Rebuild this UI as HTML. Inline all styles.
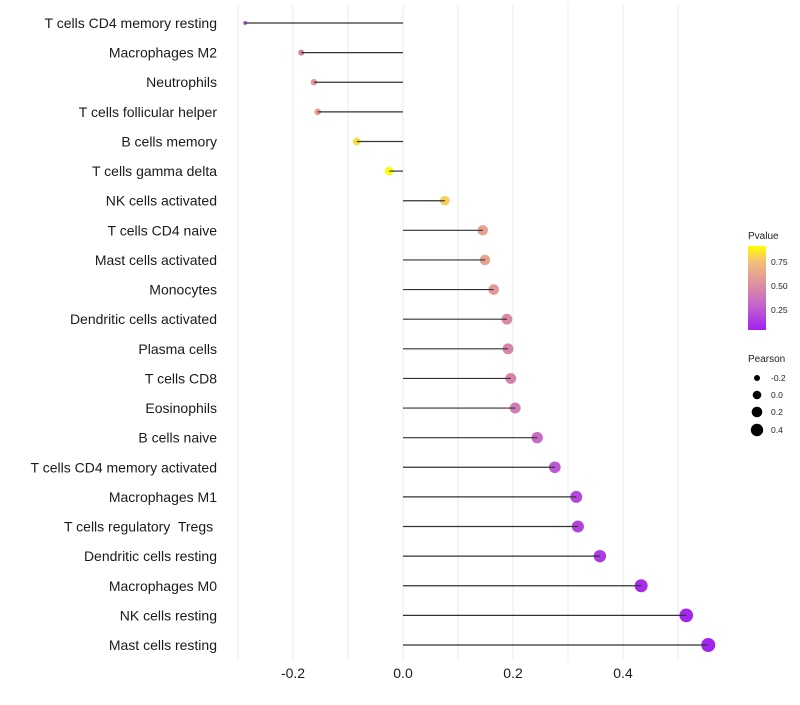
<!DOCTYPE html>
<html><head><meta charset="utf-8"><style>
body{margin:0;background:#fff;font-family:"Liberation Sans",sans-serif}
text{white-space:pre}
</style></head><body>
<svg id="chart" width="800" height="700" xmlns="http://www.w3.org/2000/svg" font-family="Liberation Sans, sans-serif">
<defs><linearGradient id="pg" x1="0" y1="1" x2="0" y2="0">
<stop offset="0" stop-color="#A020F0"/><stop offset="0.27" stop-color="#C060D0"/><stop offset="0.54" stop-color="#DC90A0"/><stop offset="0.81" stop-color="#F2BE7A"/><stop offset="1" stop-color="#FFFF00"/>
</linearGradient></defs>
<g id="grid"></g>
<g id="points"></g>
<g id="marks"></g>
<g id="ylabels"></g>
<g id="xlabels"></g>
<g>
<text x="748" y="239" font-size="10" fill="#222">Pvalue</text>
<rect x="748" y="246" width="18" height="84" fill="url(#pg)"/>
<text x="771" y="265" font-size="8.5" fill="#222">0.75</text>
<text x="771" y="289" font-size="8.5" fill="#222">0.50</text>
<text x="771" y="313" font-size="8.5" fill="#222">0.25</text>
</g>
<g>
<text x="748" y="362" font-size="10" fill="#222">Pearson</text>
<circle cx="757" cy="378" r="3" fill="#000"/><text x="771" y="381" font-size="8.5" fill="#222">-0.2</text>
<circle cx="757" cy="395" r="4.3" fill="#000"/><text x="771" y="398" font-size="8.5" fill="#222">0.0</text>
<circle cx="757" cy="412" r="5.3" fill="#000"/><text x="771" y="415" font-size="8.5" fill="#222">0.2</text>
<circle cx="757" cy="430" r="6.2" fill="#000"/><text x="771" y="433" font-size="8.5" fill="#222">0.4</text>
</g>
</svg>
<script>
const categories=["T cells CD4 memory resting","Macrophages M2","Neutrophils","T cells follicular helper","B cells memory","T cells gamma delta","NK cells activated","T cells CD4 naive","Mast cells activated","Monocytes","Dendritic cells activated","Plasma cells","T cells CD8","Eosinophils","B cells naive","T cells CD4 memory activated","Macrophages M1","T cells regulatory  Tregs ","Dendritic cells resting","Macrophages M0","NK cells resting","Mast cells resting"];
const pearson=[-0.287,-0.185,-0.162,-0.155,-0.084,-0.025,0.076,0.145,0.149,0.165,0.189,0.191,0.196,0.204,0.244,0.276,0.315,0.318,0.358,0.433,0.515,0.555];
const pvalues=[0.2,0.45,0.55,0.58,0.85,0.95,0.8,0.6,0.6,0.55,0.47,0.45,0.43,0.4,0.3,0.22,0.15,0.14,0.1,0.05,0.03,0.02];
const xTicks=[-0.2,0,0.2,0.4];
const xTickLabels=["-0.2","0.0","0.2","0.4"];
const NS="http://www.w3.org/2000/svg";
const xs=v=>403+v*550;
const ys=i=>23+i*(645-23)/(categories.length-1);
const stops=[[0,[160,32,240]],[0.25,[192,96,208]],[0.5,[220,144,160]],[0.75,[242,190,122]],[0.95,[255,255,0]]];
function col(p){for(let i=0;i<stops.length-1;i++){const a=stops[i],b=stops[i+1];if(p<=b[0]||i==stops.length-2){const t=Math.max(0,Math.min(1,(p-a[0])/(b[0]-a[0])));return 'rgb('+a[1].map((c,k)=>Math.round(c+(b[1][k]-c)*t)).join(',')+')';}}}
const rs=v=>Math.sqrt(4+(v+0.287)*53.4);
function mk(t,at,p){const e=document.createElementNS(NS,t);for(const k in at)e.setAttribute(k,at[k]);p.appendChild(e);return e;}
const grid=document.getElementById('grid');
for(let g=-3;g<=5;g++){const l=mk('line',{x1:xs(g/10),x2:xs(g/10),y1:5,y2:660,stroke:'#ebebeb','stroke-width':1},grid);

}
const marks=document.getElementById('marks'),pts=document.getElementById('points'),yl=document.getElementById('ylabels'),xl=document.getElementById('xlabels');
categories.forEach((c,i)=>{
const y=ys(i);
const pt=mk('circle',{cx:xs(pearson[i]),cy:y,r:rs(pearson[i]),fill:col(pvalues[i])},pts);


const ln=mk('line',{x1:xs(0),x2:xs(pearson[i]),y1:y,y2:y,stroke:'#333','stroke-width':1.2},marks);


const t=mk('text',{x:217,y:y+5,'text-anchor':'end','font-size':14,fill:'#1a1a1a'},yl);t.textContent=c;


});
xTicks.forEach((v,i)=>{const t=mk('text',{x:xs(v),y:678,'text-anchor':'middle','font-size':14,fill:'#1a1a1a'},xl);t.textContent=xTickLabels[i];

});
</script>
</body></html>
